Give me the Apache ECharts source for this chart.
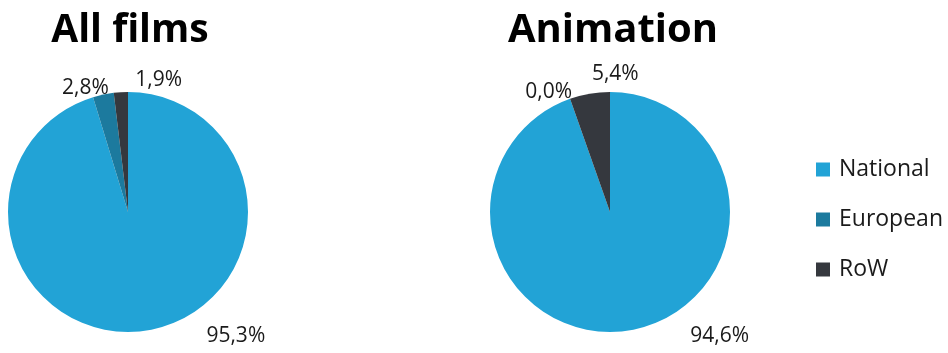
<!DOCTYPE html>
<html>
<head>
<meta charset="utf-8">
<script src="https://cdn.jsdelivr.net/npm/echarts@6/dist/echarts.min.js"></script>
<style>
html,body{margin:0;padding:0;background:#fff;}
#chart{width:948px;height:353px;}
</style>
</head>
<body>
<div id="chart"></div>
<script>
const categories = ['National', 'European', 'RoW'];
const chartTitles = ['All films', 'Animation'];
const allFilms = [95.3, 2.8, 1.9];
const animation = [94.6, 0.0, 5.4];
const colors = ['#22A3D6', '#1C7A9E', '#35383E'];

const FONT = '"Open Sans", sans-serif';
function fmt(p) { return p.value.toFixed(1).replace('.', ',') + '%'; }

function makePie(values, center, offsets) {
  return {
    type: 'pie',
    center: center,
    radius: 120,
    startAngle: 90,
    clockwise: true,
    avoidLabelOverlap: false,
    animation: false,
    silent: true,
    data: categories.map((c, i) => ({ name: c, value: values[i] })),
    label: {
      show: true,
      position: 'outside',
      formatter: fmt,
      fontFamily: FONT,
      fontSize: 21,
      color: '#1a1a1a'
    },
    labelLine: { show: false, length: 12, length2: 0 },
    labelLayout: function (p) {
      const o = offsets[p.dataIndex];
      return { dx: o[0], dy: o[1] };
    },
    itemStyle: { borderWidth: 0 }
  };
}

const chart = echarts.init(document.getElementById('chart'), null, { renderer: 'canvas' });
chart.setOption({
  color: colors,
  animation: false,
  title: [
    { text: chartTitles[0], left: 125, top: 6, textAlign: 'center',
      textStyle: { fontFamily: FONT, fontWeight: 'bold', fontSize: 39, color: '#000' } },
    { text: chartTitles[1], left: 608, top: 6, textAlign: 'center',
      textStyle: { fontFamily: FONT, fontWeight: 'bold', fontSize: 40, color: '#000' } }
  ],
  legend: {
    orient: 'vertical',
    left: 816,
    top: 158,
    padding: 0,
    itemWidth: 14,
    itemHeight: 14,
    itemGap: 27,
    icon: 'rect',
    selectedMode: false,
    data: categories,
    textStyle: { fontFamily: FONT, fontSize: 23, lineHeight: 20, color: '#1a1a1a', padding: [0, 0, 0, 4] }
  },
  series: [
    makePie(allFilms, [128, 212], [[54, -7], [13, 5], [67, 0]]),
    makePie(animation, [610, 212], [[53, -6], [11, 4], [56, -8]])
  ]
});
</script>
</body>
</html>
